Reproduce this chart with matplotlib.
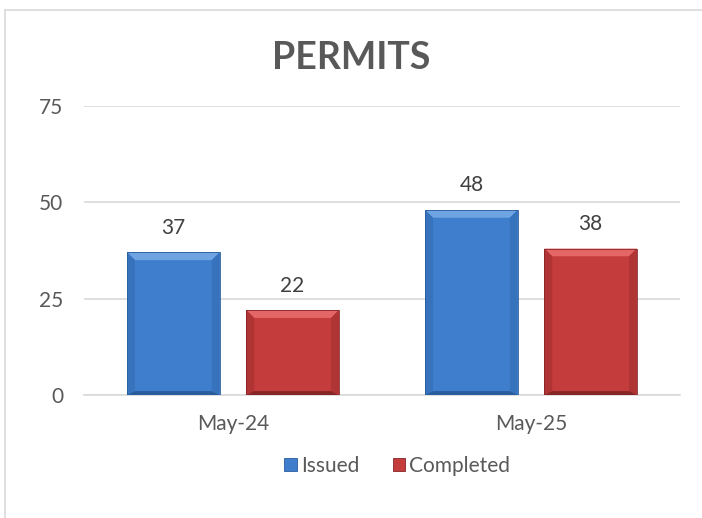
import numpy as np
import matplotlib.pyplot as plt
from matplotlib.patches import Polygon, Rectangle, Patch
from matplotlib.lines import Line2D

# data
categories = ['May-24', 'May-25']
issued = [37, 48]
completed = [22, 38]
series_names = ['Issued', 'Completed']
yticks = [0, 25, 50, 75]

# colours: face, top bevel, side, bottom
blue = ['#3e7ecd', '#6fa4e2', '#3773bd', '#285c9c']
red = ['#c43c3c', '#e46666', '#b13434', '#862626']

plt.rcParams['font.family'] = ['Lato', 'DejaVu Sans']

fig = plt.figure(figsize=(7.02, 5.18), dpi=100)
ax = fig.add_axes([84 / 702, 1 - 395 / 518, 596 / 702, 289 / 518])

# chart frame (light gray, cut off at right/bottom)
fig.add_artist(Line2D([5 / 702, 5 / 702], [0, 1 - 10 / 518], transform=fig.transFigure,
                      color='#d9d9d9', lw=1.2))
fig.add_artist(Line2D([5 / 702, 1], [1 - 10 / 518, 1 - 10 / 518], transform=fig.transFigure,
                      color='#d9d9d9', lw=1.2))


def bevel_bar(ax, x0, w, h, cols):
    face, top, side, bottom = cols
    bx, by = 0.026, 2.0
    ax.add_patch(Rectangle((x0, 0), w, h, facecolor=face, edgecolor='none', zorder=3))
    # top bevel
    ax.add_patch(Polygon([(x0, h), (x0 + w, h), (x0 + w - bx, h - by), (x0 + bx, h - by)],
                         facecolor=top, edgecolor='none', zorder=4))
    # sides
    ax.add_patch(Polygon([(x0, 0), (x0 + bx, by * 0.5), (x0 + bx, h - by), (x0, h)],
                         facecolor=side, edgecolor='none', zorder=4))
    ax.add_patch(Polygon([(x0 + w, 0), (x0 + w - bx, by * 0.5), (x0 + w - bx, h - by), (x0 + w, h)],
                         facecolor=side, edgecolor='none', zorder=4))
    # bottom
    ax.add_patch(Polygon([(x0, 0), (x0 + w, 0), (x0 + w - bx, by * 0.5), (x0 + bx, by * 0.5)],
                         facecolor=bottom, edgecolor='none', zorder=4))
    ax.add_patch(Rectangle((x0, 0), w, h, facecolor='none', edgecolor=bottom, lw=0.6, zorder=5))


x = np.arange(len(categories))
bw = 0.31
off = 0.2
for i in range(len(categories)):
    for vals, cols, sgn in [(issued, blue, -1), (completed, red, 1)]:
        v = vals[i]
        xc = x[i] + sgn * off
        bevel_bar(ax, xc - bw / 2, bw, v, cols)
        ax.text(xc, v + 3.8, str(v), ha='center', va='bottom', fontsize=15, color='#404040')

ax.set_xlim(-0.5, len(categories) - 0.5)
ax.set_ylim(0, 75)
ax.set_yticks(yticks)
ax.set_xticks(x)
ax.set_xticklabels(categories)
ax.tick_params(axis='both', length=0, labelsize=15, colors='#595959')
ax.tick_params(axis='y', pad=15)
ax.tick_params(axis='x', pad=14)
ax.grid(axis='y', color='#d9d9d9', lw=1.2, zorder=0)
ax.set_axisbelow(True)
for s in ['top', 'left', 'right']:
    ax.spines[s].set_visible(False)
ax.spines['bottom'].set_color('#d9d9d9')
ax.spines['bottom'].set_linewidth(1.2)

fig.text(0.5, 1 - 58 / 518, 'PERMITS', ha='center', va='center', fontsize=27,
         fontweight='bold', color='#595959')

handles = [Patch(facecolor=blue[0], edgecolor=blue[3], lw=0.6),
           Patch(facecolor=red[0], edgecolor=red[3], lw=0.6)]
fig.legend(handles, series_names, loc='center', bbox_to_anchor=(0.566, 1 - 466 / 518),
           ncol=2, frameon=False, fontsize=15, labelcolor='#595959',
           handlelength=0.6, handleheight=0.6, handletextpad=0.2, columnspacing=1.6)

fig.savefig('out.png', dpi=100)
